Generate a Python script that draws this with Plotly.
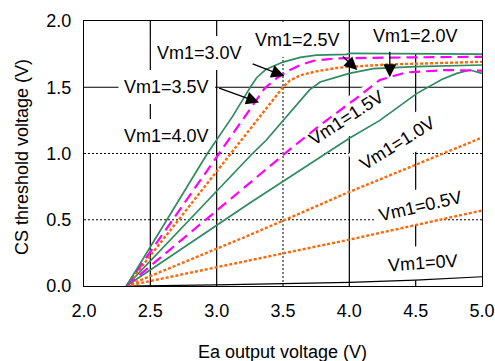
import math
import plotly.graph_objects as go

# ---------------- data ----------------
x_v40 = [2.32, 2.93, 3.12, 3.22, 3.26, 3.30, 3.37, 3.50, 3.63, 3.75, 3.98, 4.00, 4.50, 5.00]
y_v40 = [0.00, 1.00, 1.28, 1.45, 1.51, 1.57, 1.635, 1.69, 1.725, 1.743, 1.748, 1.756, 1.752, 1.75]

x_v35 = [2.32, 3.02, 3.29, 3.36, 3.45, 3.54, 3.63, 3.73, 3.88, 4.00, 4.50, 5.00]
y_v35 = [0.00, 1.00, 1.39, 1.49, 1.567, 1.625, 1.668, 1.70, 1.716, 1.72, 1.726, 1.73]

x_v30 = [2.32, 3.50, 3.55, 3.63, 3.75, 3.90, 4.00, 4.30, 5.00]
y_v30 = [0.00, 1.50, 1.55, 1.59, 1.62, 1.645, 1.655, 1.672, 1.692]

x_v25 = [2.32, 3.27, 3.373, 3.60, 3.70, 3.78, 3.93, 4.00, 4.18, 4.50, 5.00]
y_v25 = [0.00, 1.00, 1.10, 1.36, 1.48, 1.54, 1.585, 1.605, 1.64, 1.655, 1.668]

x_v20 = [2.32, 3.25, 3.575, 3.80, 4.03, 4.23, 4.43, 4.73, 4.93, 5.00]
y_v20 = [0.00, 0.775, 1.05, 1.23, 1.40, 1.555, 1.612, 1.63, 1.628, 1.625]

x_v15 = [2.32, 3.25, 4.00, 4.23, 4.51, 4.70, 4.81, 4.91, 5.00]
y_v15 = [0.00, 0.626, 1.115, 1.25, 1.454, 1.56, 1.605, 1.63, 1.605]

x_v10 = [2.32, 3.25, 4.00, 5.00]
y_v10 = [0.00, 0.385, 0.71, 1.12]

x_v05 = [2.32, 3.25, 4.00, 5.00]
y_v05 = [0.00, 0.196, 0.35, 0.57]

x_v00 = [2.32, 3.00, 4.00, 4.50, 5.00]
y_v00 = [0.00, 0.008, 0.028, 0.045, 0.07]

x_ticks = [2.0, 2.5, 3.0, 3.5, 4.0, 4.5, 5.0]
y_ticks = [0.0, 0.5, 1.0, 1.5, 2.0]

label_text = ["Vm1=3.0V", "Vm1=3.5V", "Vm1=4.0V", "Vm1=2.5V", "Vm1=2.0V",
              "Vm1=1.5V", "Vm1=1.0V", "Vm1=0.5V", "Vm1=0V"]
label_x = [2.869, 2.624, 2.624, 3.606, 4.502, 3.975, 4.366, 4.54, 4.555]
label_y = [1.758, 1.502, 1.132, 1.857, 1.887, 1.268, 1.079, 0.604, 0.174]
label_angle = [0, 0, 0, 0, 0, -33, -32, -13, -4]

arrow_tip_x = [3.51, 3.32, 4.06, 4.305]
arrow_tip_y = [1.585, 1.385, 1.63, 1.575]
arrow_tail_x = [3.26, 3.008, 3.94, 4.305]
arrow_tail_y = [1.68, 1.497, 1.743, 1.78]

# ---------------- styling ----------------
GREEN = "#2e8b5e"
MAGENTA = "#ff00ff"
ORANGE = "#ff6608"
FONT = "Liberation Sans, Arial, sans-serif"

W, H = 495, 361
ML, MR, MT, MB = 84, 13, 21, 75
XR = (2.0, 5.0)
YR = (0.0, 2.0)
PW = W - ML - MR
PH = H - MT - MB


def to_px(x, y):
    return (ML + (x - XR[0]) / (XR[1] - XR[0]) * PW,
            MT + (YR[1] - y) / (YR[1] - YR[0]) * PH)


def to_data(px, py):
    return (XR[0] + (px - ML) / PW * (XR[1] - XR[0]),
            YR[1] - (py - MT) / PH * (YR[1] - YR[0]))


fig = go.Figure()

series = [
    (x_v00, y_v00, "black", "solid", 1.2),
    (x_v05, y_v05, ORANGE, "3px,2px", 2.4),
    (x_v10, y_v10, ORANGE, "3px,2px", 2.4),
    (x_v15, y_v15, GREEN, "solid", 1.7),
    (x_v20, y_v20, MAGENTA, "11px,6px", 2.2),
    (x_v25, y_v25, GREEN, "solid", 1.7),
    (x_v30, y_v30, ORANGE, "3px,2px", 2.4),
    (x_v35, y_v35, MAGENTA, "11px,6px", 2.2),
    (x_v40, y_v40, GREEN, "solid", 1.7),
]
for xs, ys, col, dash, w in series:
    fig.add_trace(go.Scatter(x=xs, y=ys, mode="lines",
                             line=dict(color=col, dash=dash, width=w),
                             showlegend=False, hoverinfo="skip"))

shapes = []
# grid lines
for xv, style in [(2.5, "solid"), (3.0, "solid"), (3.5, "dot"), (4.0, "solid"), (4.5, "solid")]:
    shapes.append(dict(type="line", xref="x", yref="y", x0=xv, x1=xv, y0=YR[0], y1=YR[1],
                       layer="below",
                       line=dict(color="black", width=1.2 if style == "solid" else 1,
                                 dash="solid" if style == "solid" else "2px,2px")))
for yv, style in [(1.5, "solid"), (1.0, "dot"), (0.5, "dot")]:
    shapes.append(dict(type="line", xref="x", yref="y", x0=XR[0], x1=XR[1], y0=yv, y1=yv,
                       layer="below",
                       line=dict(color="black", width=1.2 if style == "solid" else 1,
                                 dash="solid" if style == "solid" else "2px,2px")))

# white boxes behind the labels (under the curves, over the grid)
for t, lx, ly, ang in zip(label_text, label_x, label_y, label_angle):
    cx, cy = to_px(lx, ly)
    tw = (4.70 if len(t) > 6 else 3.86) * 18
    hw, hh = tw / 2 + 6, 17
    a = math.radians(-ang)
    ux, uy = math.cos(a), -math.sin(a)
    vx, vy = math.sin(a), math.cos(a)
    pts = []
    for sw, sh in [(-1, -1), (1, -1), (1, 1), (-1, 1)]:
        px = cx + sw * hw * ux + sh * hh * vx
        py = cy + sw * hw * uy + sh * hh * vy
        pts.append(to_data(px, py))
    path = "M " + " L ".join(f"{p[0]:.4f},{p[1]:.4f}" for p in pts) + " Z"
    shapes.append(dict(type="path", xref="x", yref="y", path=path, layer="below",
                       fillcolor="white", line=dict(width=0)))

annotations = []
for t, lx, ly, ang in zip(label_text, label_x, label_y, label_angle):
    annotations.append(dict(x=lx, y=ly, xref="x", yref="y", text=t, showarrow=False,
                            textangle=ang, font=dict(size=18, color="black", family=FONT),
                            xanchor="center", yanchor="middle"))
for tx, ty, sx, sy in zip(arrow_tip_x, arrow_tip_y, arrow_tail_x, arrow_tail_y):
    annotations.append(dict(x=tx, y=ty, ax=sx, ay=sy, xref="x", yref="y",
                            axref="x", ayref="y", text="", showarrow=True,
                            arrowhead=2, arrowsize=2.0, arrowwidth=1.3,
                            arrowcolor="black", standoff=0, startstandoff=0))

# axis titles
annotations.append(dict(x=(282 - ML) / PW, y=(MT + PH - 352) / PH, xref="paper", yref="paper",
                        text="Ea output voltage (V)", showarrow=False,
                        font=dict(size=18, color="black", family=FONT),
                        xanchor="center", yanchor="middle"))
annotations.append(dict(x=(22 - ML) / PW, y=(MT + PH - 157) / PH, xref="paper", yref="paper",
                        text="CS threshold voltage (V)", showarrow=False, textangle=-90,
                        font=dict(size=18, color="black", family=FONT),
                        xanchor="center", yanchor="middle"))

fig.update_layout(
    width=W, height=H,
    margin=dict(l=ML, r=MR, t=MT, b=MB, pad=0, autoexpand=False),
    paper_bgcolor="white", plot_bgcolor="white",
    font=dict(family=FONT, size=18, color="black"),
    shapes=shapes, annotations=annotations, showlegend=False,
)
fig.update_xaxes(range=list(XR), tickvals=x_ticks, ticktext=[f"{v:.1f}" for v in x_ticks],
                 showgrid=False, zeroline=False, showline=True, mirror=True, automargin=False,
                 linecolor="black", linewidth=1.3, ticks="", ticklabelstandoff=8,
                 tickfont=dict(size=18, family=FONT, color="black"))
fig.update_yaxes(range=list(YR), tickvals=y_ticks, ticktext=[f"{v:.1f}" for v in y_ticks],
                 showgrid=False, zeroline=False, showline=True, mirror=True, automargin=False,
                 linecolor="black", linewidth=1.3, ticks="", ticklabelstandoff=8,
                 tickfont=dict(size=18, family=FONT, color="black"))

fig.write_html("out.html",
               config={"displayModeBar": False},
               post_script="document.body.style.margin='0';document.body.style.overflow='hidden';")
